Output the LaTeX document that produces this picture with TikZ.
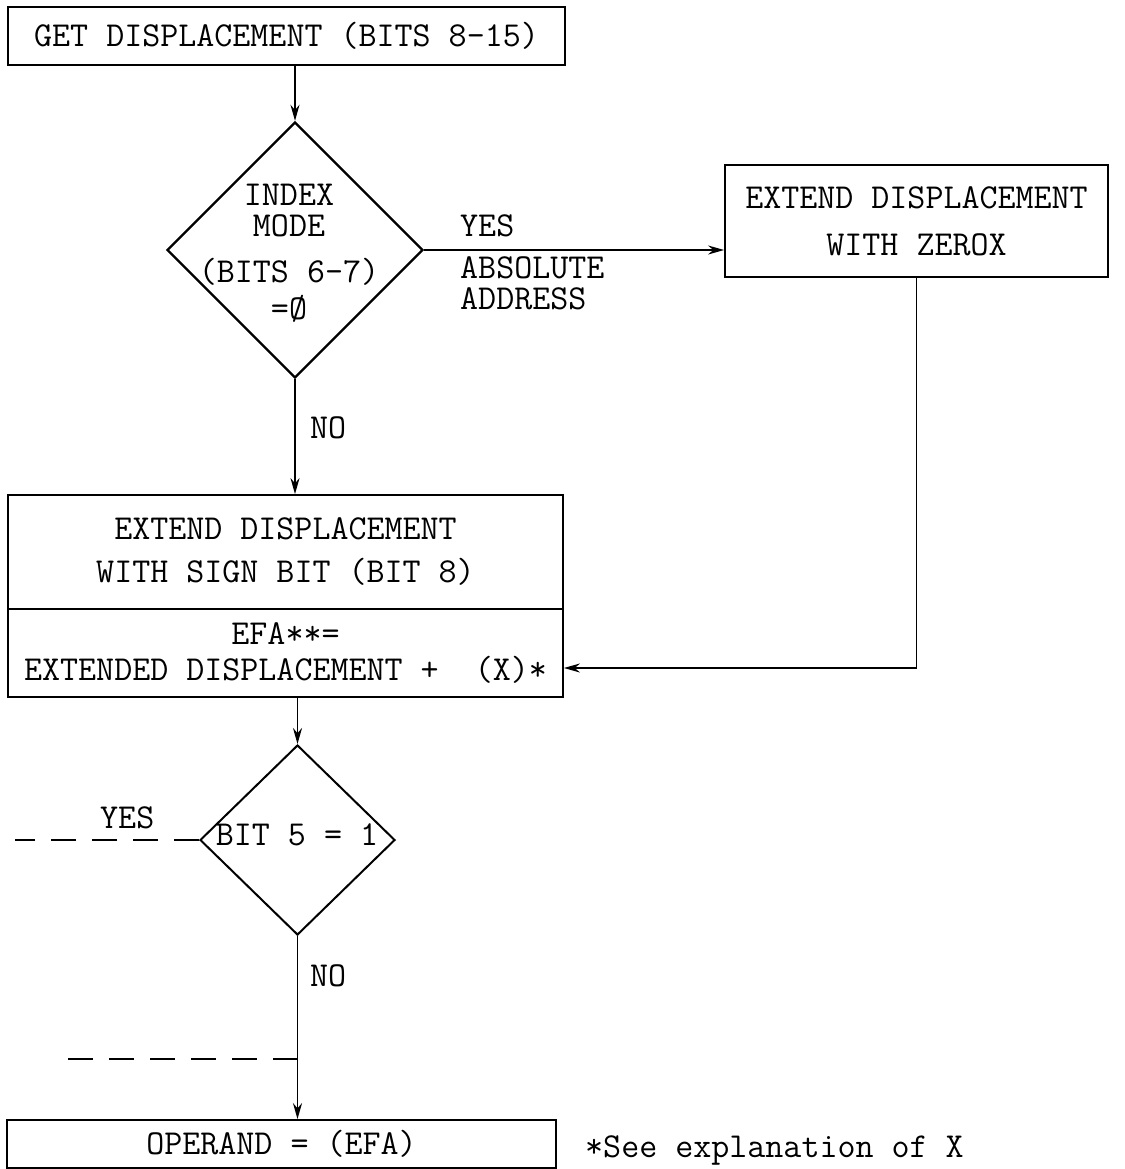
\documentclass[tikz,border=0pt]{standalone}
\usepackage{fontspec}
\usepackage{tikz}
\usetikzlibrary{shapes.geometric, arrows.meta, positioning, calc}
\tikzset{
    procbox/.style={
        rectangle,
        draw=black,
        line width=1.8pt,
        inner sep=0pt,
        align=center,
        font=\ttfamily\fontsize{35}{30}\selectfont
    },
    decision/.style={
        diamond,
        draw=black,
        line width=2.4pt,
        inner sep=0pt
    },
    flowtext/.style={
        inner sep=0pt,
        font=\ttfamily\fontsize{35}{30}\selectfont
    },
    wire/.style={
        draw=black,
        line width=1.8pt,
        -{Stealth[length=16pt, width=9pt]}
    },
    dashwire/.style={
        draw=black,
        line width=2.6pt,
        dash pattern=on 25pt off 16pt
    }
}
\begin{document}
\begin{tikzpicture}[x=1pt, y=-1pt]
\useasboundingbox (0,0) rectangle (1124,1169);

% Top box
\node[procbox, minimum width=557pt, minimum height=58pt] (getdisp) at (286.5,36) {GET DISPLACEMENT (BITS 8-15)};

% Index mode decision
\node[decision, minimum width=256pt, minimum height=256pt] (idxmode) at (295,250) {};
\node[flowtext, align=center] (idxlbl) at (289,253) {INDEX\\[1pt]MODE\\[16pt](BITS 6-7)\\[7pt]=Ø};

% Absolute address branch
\node[procbox, minimum width=383pt, minimum height=112pt, font=\ttfamily\fontsize{35}{47}\selectfont] (zerox) at (916.5,221) {EXTEND DISPLACEMENT\\WITH ZEROX};
\node[flowtext, anchor=west] (yes1) at (460,226) {YES};
\node[flowtext, anchor=west, align=left] (absaddr) at (460,283) {ABSOLUTE\\[1pt]ADDRESS};

% Sign extension and EFA
\node[procbox, minimum width=555pt, minimum height=114pt, font=\ttfamily\fontsize{35}{43}\selectfont] (signext) at (285.5,552) {EXTEND DISPLACEMENT\\WITH SIGN BIT (BIT 8)};
\node[procbox, minimum width=555pt, minimum height=88pt, font=\ttfamily\fontsize{35}{36}\selectfont] (efa) at (285.5,653) {EFA**=\\EXTENDED DISPLACEMENT +~~(X)*};
\node[flowtext, anchor=west] (no1) at (310,428) {NO};

% Bit 5 decision
\node[decision, line width=2pt, minimum width=195pt, minimum height=190pt] (bit5) at (297.5,840) {};
\node[flowtext] (bit5lbl) at (297,835) {BIT 5 = 1};
\node[flowtext, anchor=west] (yes2) at (100,818) {YES};
\node[flowtext, anchor=west] (no2) at (310,976) {NO};

% Operand box and note
\node[procbox, minimum width=549pt, minimum height=48pt] (opnd) at (281.5,1144) {OPERAND = (EFA)};
\node[flowtext, anchor=base west] (note) at (585,1157) {*See explanation of X};

\coordinate (yesend) at (15,840);
\coordinate (dashend) at (52,1059);
\coordinate (merge) at (bit5.south |- dashend);

% Connections
\draw[wire] (idxmode.north |- getdisp.south) -- (idxmode.north);
\draw[wire] (idxmode.east) -- (zerox.west |- idxmode.east);
\draw[wire] (idxmode.south) -- (idxmode.south |- signext.north);
\draw[wire] (zerox.south) |- ([yshift=-15pt]efa.east);
\draw[wire] (bit5.north |- efa.south) -- (bit5.north);
\draw[wire] (bit5.south) -- (bit5.south |- opnd.north);
\draw[dashwire] (bit5.west) -- (yesend);
\draw[dashwire] (merge) -- (dashend);

\end{tikzpicture}
\end{document}
